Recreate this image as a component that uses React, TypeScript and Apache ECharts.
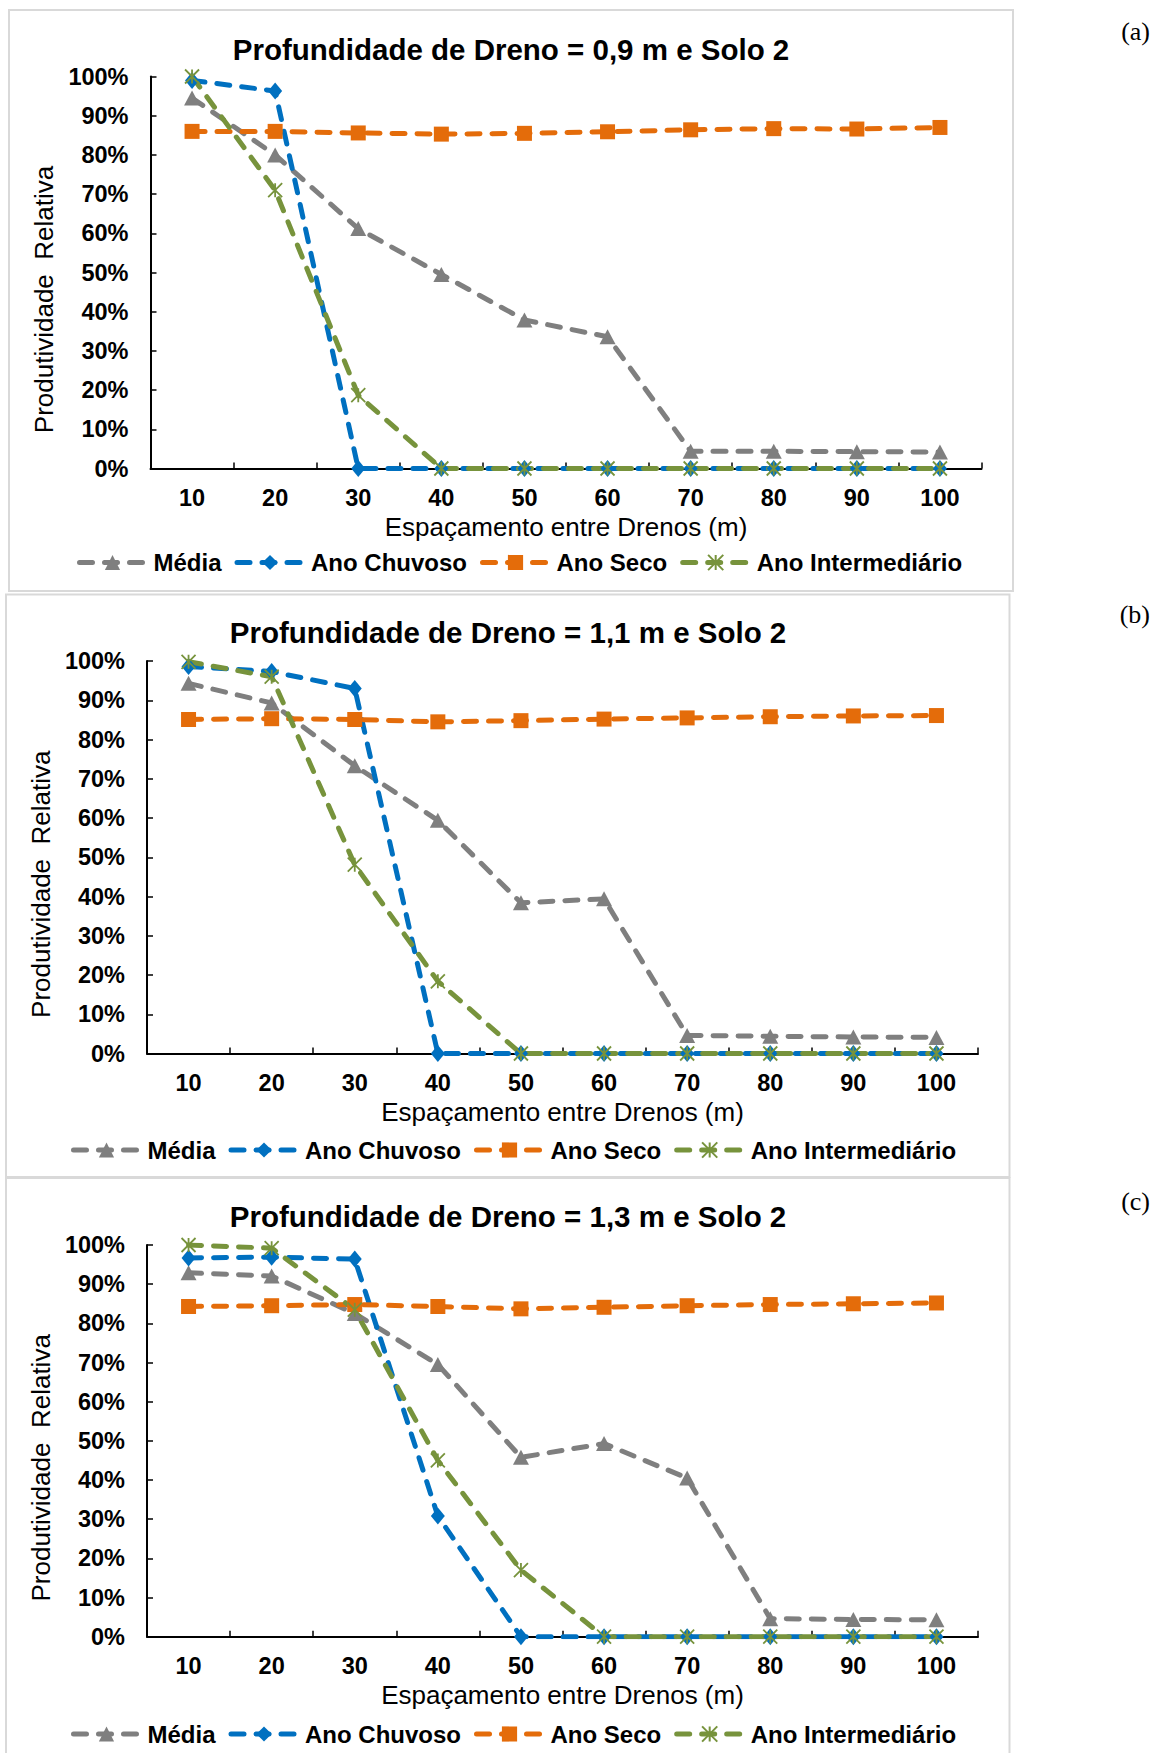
import React, { useEffect, useRef } from "react";
import * as echarts from "echarts";

// ---------- data ----------
const categories = ["10", "20", "30", "40", "50", "60", "70", "80", "90", "100"];
const seriesNames = ["Média", "Ano Chuvoso", "Ano Seco", "Ano Intermediário"];
const titles = [
  "Profundidade de Dreno = 0,9 m e Solo 2",
  "Profundidade de Dreno = 1,1 m e Solo 2",
  "Profundidade de Dreno = 1,3 m e Solo 2",
];
const panelTags = ["(a)", "(b)", "(c)"];
const xAxisName = "Espaçamento entre Drenos (m)";
const yAxisName = "Produtividade  Relativa";

// (a) 0,9 m
const mediaA = [94.5, 80, 61.2, 49.5, 37.9, 33.6, 4.4, 4.4, 4.3, 4.2];
const chuvosoA = [99, 96.3, 0, 0, 0, 0, 0, 0, 0, 0];
const secoA = [86, 86, 85.6, 85.3, 85.5, 85.9, 86.4, 86.7, 86.6, 87];
const interA = [100, 71, 18.7, 0, 0, 0, 0, 0, 0, 0];

// (b) 1,1 m
const mediaB = [94.3, 89.3, 73.3, 59.4, 38.4, 39.4, 4.6, 4.4, 4.2, 4.1];
const chuvosoB = [98.6, 97.3, 93, 0, 0, 0, 0, 0, 0, 0];
const secoB = [85.1, 85.3, 85.1, 84.5, 84.8, 85.2, 85.5, 85.8, 86, 86.1];
const interB = [99.8, 96, 48.1, 18.4, 0, 0, 0, 0, 0, 0];

// (c) 1,3 m
const mediaC = [92.9, 92.1, 82.5, 69.5, 45.8, 49.3, 40.5, 4.6, 4.4, 4.3];
const chuvosoC = [96.7, 96.9, 96.4, 30.8, 0, 0, 0, 0, 0, 0];
const secoC = [84.3, 84.5, 84.8, 84.3, 83.7, 84.1, 84.5, 84.8, 85, 85.2];
const interC = [100, 99.2, 83.5, 45, 17, 0, 0, 0, 0, 0];

const panelData = [
  [mediaA, chuvosoA, secoA, interA],
  [mediaB, chuvosoB, secoB, interB],
  [mediaC, chuvosoC, secoC, interC],
];

// ---------- layout & style ----------
const FONT = '"Liberation Sans", Arial, sans-serif';
const SERIF = '"Liberation Serif", "Times New Roman", serif';

const layouts = [
  { grid: { left: 150.5, top: 76.5, width: 831, height: 392 }, titleX: 511, titleY: 34, legendX: 77, legendY: 550.5, box: [9, 10, 1004, 581], tagY: 31 },
  { grid: { left: 147, top: 661, width: 831, height: 392.5 }, titleX: 508, titleY: 617, legendX: 71, legendY: 1138, box: [6, 594.5, 1003.5, 582.5], tagY: 614 },
  { grid: { left: 147, top: 1245, width: 831, height: 391.7 }, titleX: 508, titleY: 1201.5, legendX: 71, legendY: 1722, box: [6, 1178, 1003.5, 600], tagY: 1201.5 },
];

const seriesStyles = [
  { color: "#7f7f7f", symbol: "triangle", size: [16, 15], stroke: false },
  { color: "#0070c0", symbol: "diamond", size: [14, 17], stroke: false },
  { color: "#e46c0a", symbol: "rect", size: [15, 15], stroke: false },
  { color: "#77933c", symbol: "path://M0,0L10,10M10,0L0,10M5,0L5,10", size: [14, 14], stroke: true },
];

function buildOption() {
  const grid: any[] = [];
  const xAxis: any[] = [];
  const yAxis: any[] = [];
  const series: any[] = [];
  const title: any[] = [];
  const legend: any[] = [];
  const graphic: any[] = [];

  layouts.forEach((L, p) => {
    grid.push({ ...L.grid, containLabel: false, outerBoundsMode: "none" });
    xAxis.push({
      type: "category",
      gridIndex: p,
      data: categories,
      boundaryGap: true,
      name: xAxisName,
      nameLocation: "middle",
      nameGap: 45,
      nameTextStyle: { fontFamily: FONT, fontSize: 26, color: "#000" },
      axisLine: { show: true, lineStyle: { color: "#000", width: 2 } },
      axisTick: { show: true, inside: true, length: 6, alignWithLabel: false, interval: 0, lineStyle: { color: "#000", width: 1.5 } },
      axisLabel: { interval: 0, margin: 17, fontFamily: FONT, fontSize: 23.5, fontWeight: "bold", color: "#000" },
      splitLine: { show: false },
    });
    yAxis.push({
      type: "value",
      gridIndex: p,
      min: 0,
      max: 100,
      interval: 10,
      name: yAxisName,
      nameLocation: "middle",
      nameGap: 87.5,
      nameRotate: 90,
      nameTextStyle: { fontFamily: FONT, fontSize: 26, color: "#000", padding: [0, 54, 0, 0] },
      axisLine: { show: true, lineStyle: { color: "#000", width: 2 } },
      axisTick: { show: true, inside: true, length: 6, lineStyle: { color: "#000", width: 1.5 } },
      axisLabel: { formatter: "{value}%", margin: 22, fontFamily: FONT, fontSize: 23.5, fontWeight: "bold", color: "#000" },
      splitLine: { show: false },
    });

    seriesNames.forEach((name, s) => {
      const st = seriesStyles[s];
      series.push({
        type: "line",
        name,
        xAxisIndex: p,
        yAxisIndex: p,
        data: panelData[p][s],
        symbol: st.symbol,
        symbolSize: st.size,
        showSymbol: true,
        showAllSymbol: true,
        lineStyle: { color: st.color, width: 5, type: [13, 12], cap: "round", join: "round" },
        itemStyle: st.stroke
          ? { color: "rgba(0,0,0,0)", borderColor: st.color, borderWidth: 1.8 }
          : { color: st.color },
        emphasis: { disabled: true },
      });
    });

    title.push({
      text: titles[p],
      left: L.titleX,
      top: L.titleY,
      textAlign: "center",
      padding: 0,
      textStyle: { fontFamily: FONT, fontSize: 29.5, fontWeight: "bold", color: "#000" },
    });

    legend.push({
      left: L.legendX,
      top: L.legendY,
      orient: "horizontal",
      padding: 0,
      itemGap: 13,
      itemWidth: 66,
      itemHeight: 19,
      selectedMode: false,
      data: seriesNames,
      lineStyle: { width: 5 },
      textStyle: { fontFamily: FONT, fontSize: 24, fontWeight: "bold", color: "#000", padding: [0, 0, 0, 3] },
    });

    graphic.push({
      type: "rect",
      silent: true,
      z: -10,
      shape: { x: L.box[0], y: L.box[1], width: L.box[2], height: L.box[3] },
      style: { fill: "none", stroke: "#d9d9d9", lineWidth: 2 },
    });
    graphic.push({
      type: "text",
      silent: true,
      x: 1150,
      y: L.tagY,
      style: {
        text: panelTags[p],
        font: `26px ${SERIF}`,
        fill: "#000",
        textAlign: "right",
        textVerticalAlign: "middle",
        verticalAlign: "middle",
      },
    });
  });

  return {
    animation: false,
    backgroundColor: "#fff",
    grid,
    xAxis,
    yAxis,
    series,
    title,
    legend,
    graphic,
    tooltip: { show: false },
  };
}

export default function App() {
  const ref = useRef<HTMLDivElement | null>(null);
  useEffect(() => {
    if (!ref.current) return;
    const chart = echarts.init(ref.current, null, { renderer: "svg" });
    chart.setOption(buildOption() as any);
    return () => chart.dispose();
  }, []);
  return (
    <div
      ref={ref}
      style={{ position: "absolute", left: 0, top: 0, width: 1151, height: 1753, background: "#fff" }}
    />
  );
}
